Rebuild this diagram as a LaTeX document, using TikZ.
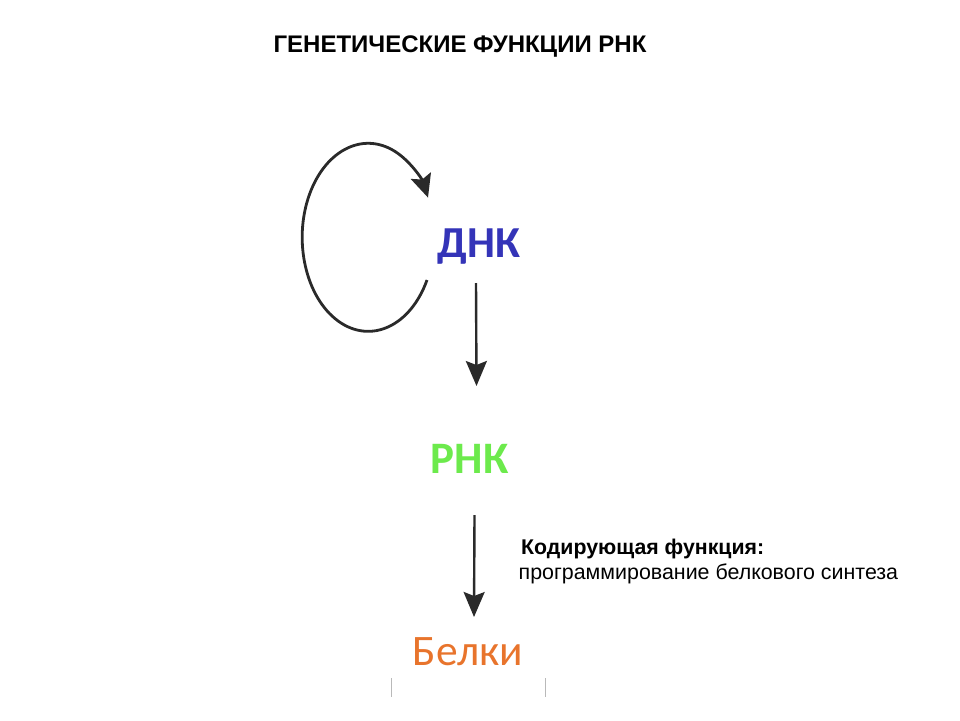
\documentclass[tikz,border=0pt]{standalone}
\usepackage{fontspec}
\setmainfont{Liberation Sans}
\newfontfamily\carl{Carlito}
\usetikzlibrary{arrows.meta}
\definecolor{dnablue}{HTML}{3434B8}
\definecolor{rnagreen}{HTML}{6CEA4C}
\definecolor{protorange}{HTML}{E8742C}
\definecolor{inkdark}{HTML}{2A2A2A}
\tikzset{
  biglabel/.style={inner sep=0pt, anchor=base},
  titletext/.style={inner sep=0pt, anchor=base, font=\bfseries\fontsize{24}{28}\selectfont},
  notebold/.style={inner sep=0pt, anchor=base west, font=\bfseries\fontsize{21.3}{26}\selectfont},
  noteplain/.style={inner sep=0pt, anchor=base west, font=\fontsize{21.4}{26}\selectfont},
  arr/.style={draw=inkdark, line width=2.4pt, -{Stealth[length=25pt,width=21pt,inset=4pt]}},
  looparr/.style={draw=inkdark, line width=2.8pt, -{Stealth[length=23pt,width=21pt,inset=4pt]}},
  mark line/.style={draw=gray!55, line width=1pt}
}
\begin{document}
\begin{tikzpicture}[x=1pt,y=-1pt]
\useasboundingbox (0,0) rectangle (960,720);
\node[titletext] (title) at (460,52) {ГЕНЕТИЧЕСКИЕ ФУНКЦИИ РНК};
\node[biglabel, text=dnablue, font=\carl\bfseries\fontsize{44.3}{50}\selectfont] (dna) at (479,257) {ДНК};
\node[biglabel, text=rnagreen, font=\carl\bfseries\fontsize{45}{50}\selectfont] (rna) at (469.5,473) {РНК};
\node[biglabel, text=protorange, font=\carl\fontsize{43.5}{50}\selectfont] (prot) at (468,665) {Белки};
\node[notebold] (codehead) at (521,554) {Кодирующая функция:};
\node[noteplain] (codetext) at (518.5,579) {программирование белкового синтеза};
% self loop on DNA
\draw[looparr] ([shift={(-52,23)}]dna.base) arc[start angle=27, end angle=335, x radius=66, y radius=94];
% arrows
\draw[arr] ([shift={(-3,26)}]dna.base) -- ([shift={(7,-87)}]rna.base);
\draw[arr] ([shift={(5,42)}]rna.base) -- ([shift={(6,-48)}]prot.base);
% stray marks
\draw[mark line] (391,678) -- (391,697);
\draw[mark line] (545,678) -- (545,697);
\end{tikzpicture}
\end{document}
